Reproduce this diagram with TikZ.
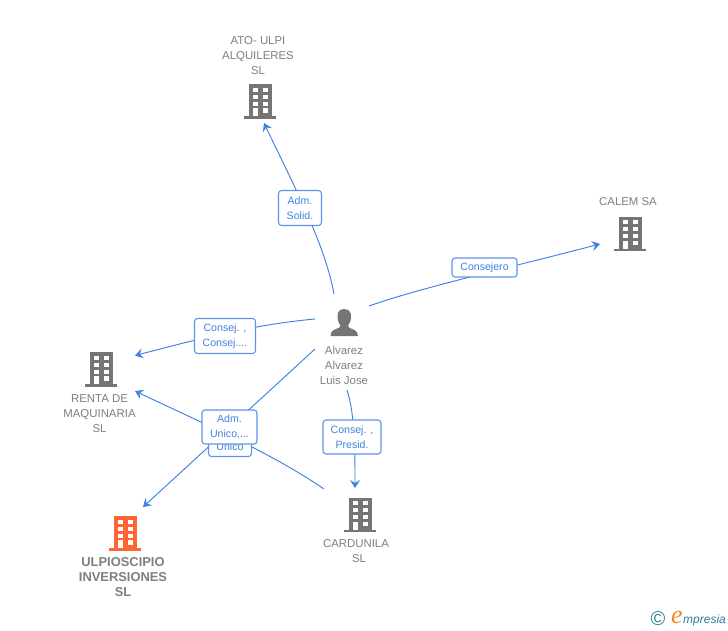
\documentclass[tikz,border=0pt]{standalone}
\usepackage{fontspec}
\setmainfont{Liberation Sans}
\newfontfamily\logoserif{Liberation Serif}
\usetikzlibrary{arrows.meta}
\definecolor{linkblue}{HTML}{3F83E0}
\definecolor{tagblue}{HTML}{5C96E8}
\definecolor{icongray}{HTML}{757575}
\definecolor{txtgray}{HTML}{7F7F7F}
\definecolor{iconorange}{HTML}{FF6633}
\definecolor{logoteal}{HTML}{2F7F96}
\definecolor{logoorange}{HTML}{F08A1D}
\newcommand{\buildingicon}[3]{%
  \begin{scope}[shift={(#1,#2)}]
    \fill[#3] (-11.5,-17) rectangle (11.5,15);
    \fill[#3] (-16,15) rectangle (16,17.5);
    \foreach \wy in {-13.5,-6.5,0.5}{
      \fill[white] (-7,\wy) rectangle (-2,\wy+4);
      \fill[white] (2.5,\wy) rectangle (7.5,\wy+4);
    }
    \fill[white] (-7,7) rectangle (-2,15);
    \fill[white] (2.5,7) rectangle (7.5,11.5);
  \end{scope}}
\tikzset{
  linkline/.style={draw=linkblue,line width=0.95pt},
  tipped/.style={-{Stealth[length=8pt,width=10pt,inset=3pt]}},
  tagbox/.style={draw=tagblue,line width=1.1pt,rounded corners=3pt,fill=white,text=linkblue,
    font=\fontsize{10.6}{15}\selectfont,align=center,inner sep=0pt},
  nametext/.style={text=txtgray,font=\fontsize{11.4}{15}\selectfont,align=center,inner sep=0pt},
  boldtext/.style={text=txtgray,font=\fontsize{12.9}{15}\selectfont\bfseries,align=center,inner sep=0pt},
}
\begin{document}
\begin{tikzpicture}[x=1pt,y=-1pt]
\useasboundingbox[fill=white] (0,0) rectangle (728,630);
% connector ends
\coordinate (pN) at (334,294);
\coordinate (pE) at (369,306);
\coordinate (pW) at (315,319);
\coordinate (pSW) at (315,349);
\coordinate (pS) at (347,390);
\coordinate (ato) at (264,123);
\coordinate (calem) at (600,244);
\coordinate (rentaA) at (135,355.5);
\coordinate (rentaB) at (135,391);
\coordinate (ulpio) at (143,507);
\coordinate (cardA) at (355,488);
\coordinate (cardB) at (324,489);
% connectors
\draw[linkline,tipped] (pN) .. controls (325,245) and (296,190) .. (ato);
\draw[linkline,tipped] (pE) .. controls (420,288) and (500,270) .. (calem);
\draw[linkline,tipped] (pW) .. controls (250,325) and (195,340) .. (rentaA);
\draw[linkline,tipped] (pSW) -- (ulpio);
\draw[linkline,tipped] (cardB) .. controls (270,452) and (200,422) .. (rentaB);
\draw[linkline,tipped] (pS) .. controls (355,415) and (355,450) .. (cardA);
% labels
\node[tagbox,minimum width=43pt,minimum height=19pt] (t5) at (230,447) {Unico};
\node[tagbox,minimum width=43pt,minimum height=35pt] (t1) at (300,208) {Adm.\\Solid.};
\node[tagbox,minimum width=65pt,minimum height=19pt] (t2) at (484.5,267.5) {Consejero};
\node[tagbox,minimum width=61pt,minimum height=35pt] (t3) at (225,336) {Consej. ,\\Consej....};
\node[tagbox,minimum width=55pt,minimum height=34pt] (t4) at (229.5,427) {Adm.\\Unico,...};
\node[tagbox,minimum width=58pt,minimum height=34pt] (t6) at (352,437) {Consej. ,\\Presid.};
% icons
\buildingicon{260}{101}{icongray}
\buildingicon{630}{233.5}{icongray}
\buildingicon{101}{369}{icongray}
\buildingicon{360}{514.5}{icongray}
\buildingicon{125}{533}{iconorange}
% person
\fill[icongray] (344,309) .. controls (338.5,309) and (337,313.5) .. (337.5,318)
  .. controls (338,322) and (339.5,324) .. (340.5,325.5)
  .. controls (340,327.5) and (339,328) .. (336,329)
  .. controls (332,330.5) and (331,332) .. (330.5,336) -- (358,336)
  .. controls (357.5,332) and (356,330.5) .. (352.5,329)
  .. controls (349,328) and (348.5,327.5) .. (348,325.5)
  .. controls (349,324) and (350.5,322) .. (351,318)
  .. controls (351.5,313.5) and (350,309) .. (344,309) -- cycle;
% names
\node[nametext] (n0) at (344,365.5) {Alvarez\\Alvarez\\Luis Jose};
\node[nametext] (n1) at (258,55.5) {ATO- ULPI\\ALQUILERES\\SL};
\node[nametext] (n2) at (628,202) {CALEM SA};
\node[nametext] (n3) at (99.5,413.5) {RENTA DE\\MAQUINARIA\\SL};
\node[nametext] (n4) at (356,551) {CARDUNILA\\\hspace*{6pt}SL};
\node[boldtext] (n5) at (123,577) {ULPIOSCIPIO\\INVERSIONES\\SL};
% logo
\node[text=logoteal,font=\fontsize{20}{20}\selectfont,inner sep=0pt] (lc) at (658,619) {©};
\node[text=logoorange,font=\logoserif\fontsize{26}{26}\selectfont\itshape,inner sep=0pt] (le) at (677,617) {e};
\node[text=logoteal,font=\fontsize{12}{12}\selectfont\itshape,inner sep=0pt,anchor=west] (lm) at (683,620) {mpresia};
\end{tikzpicture}
\end{document}
